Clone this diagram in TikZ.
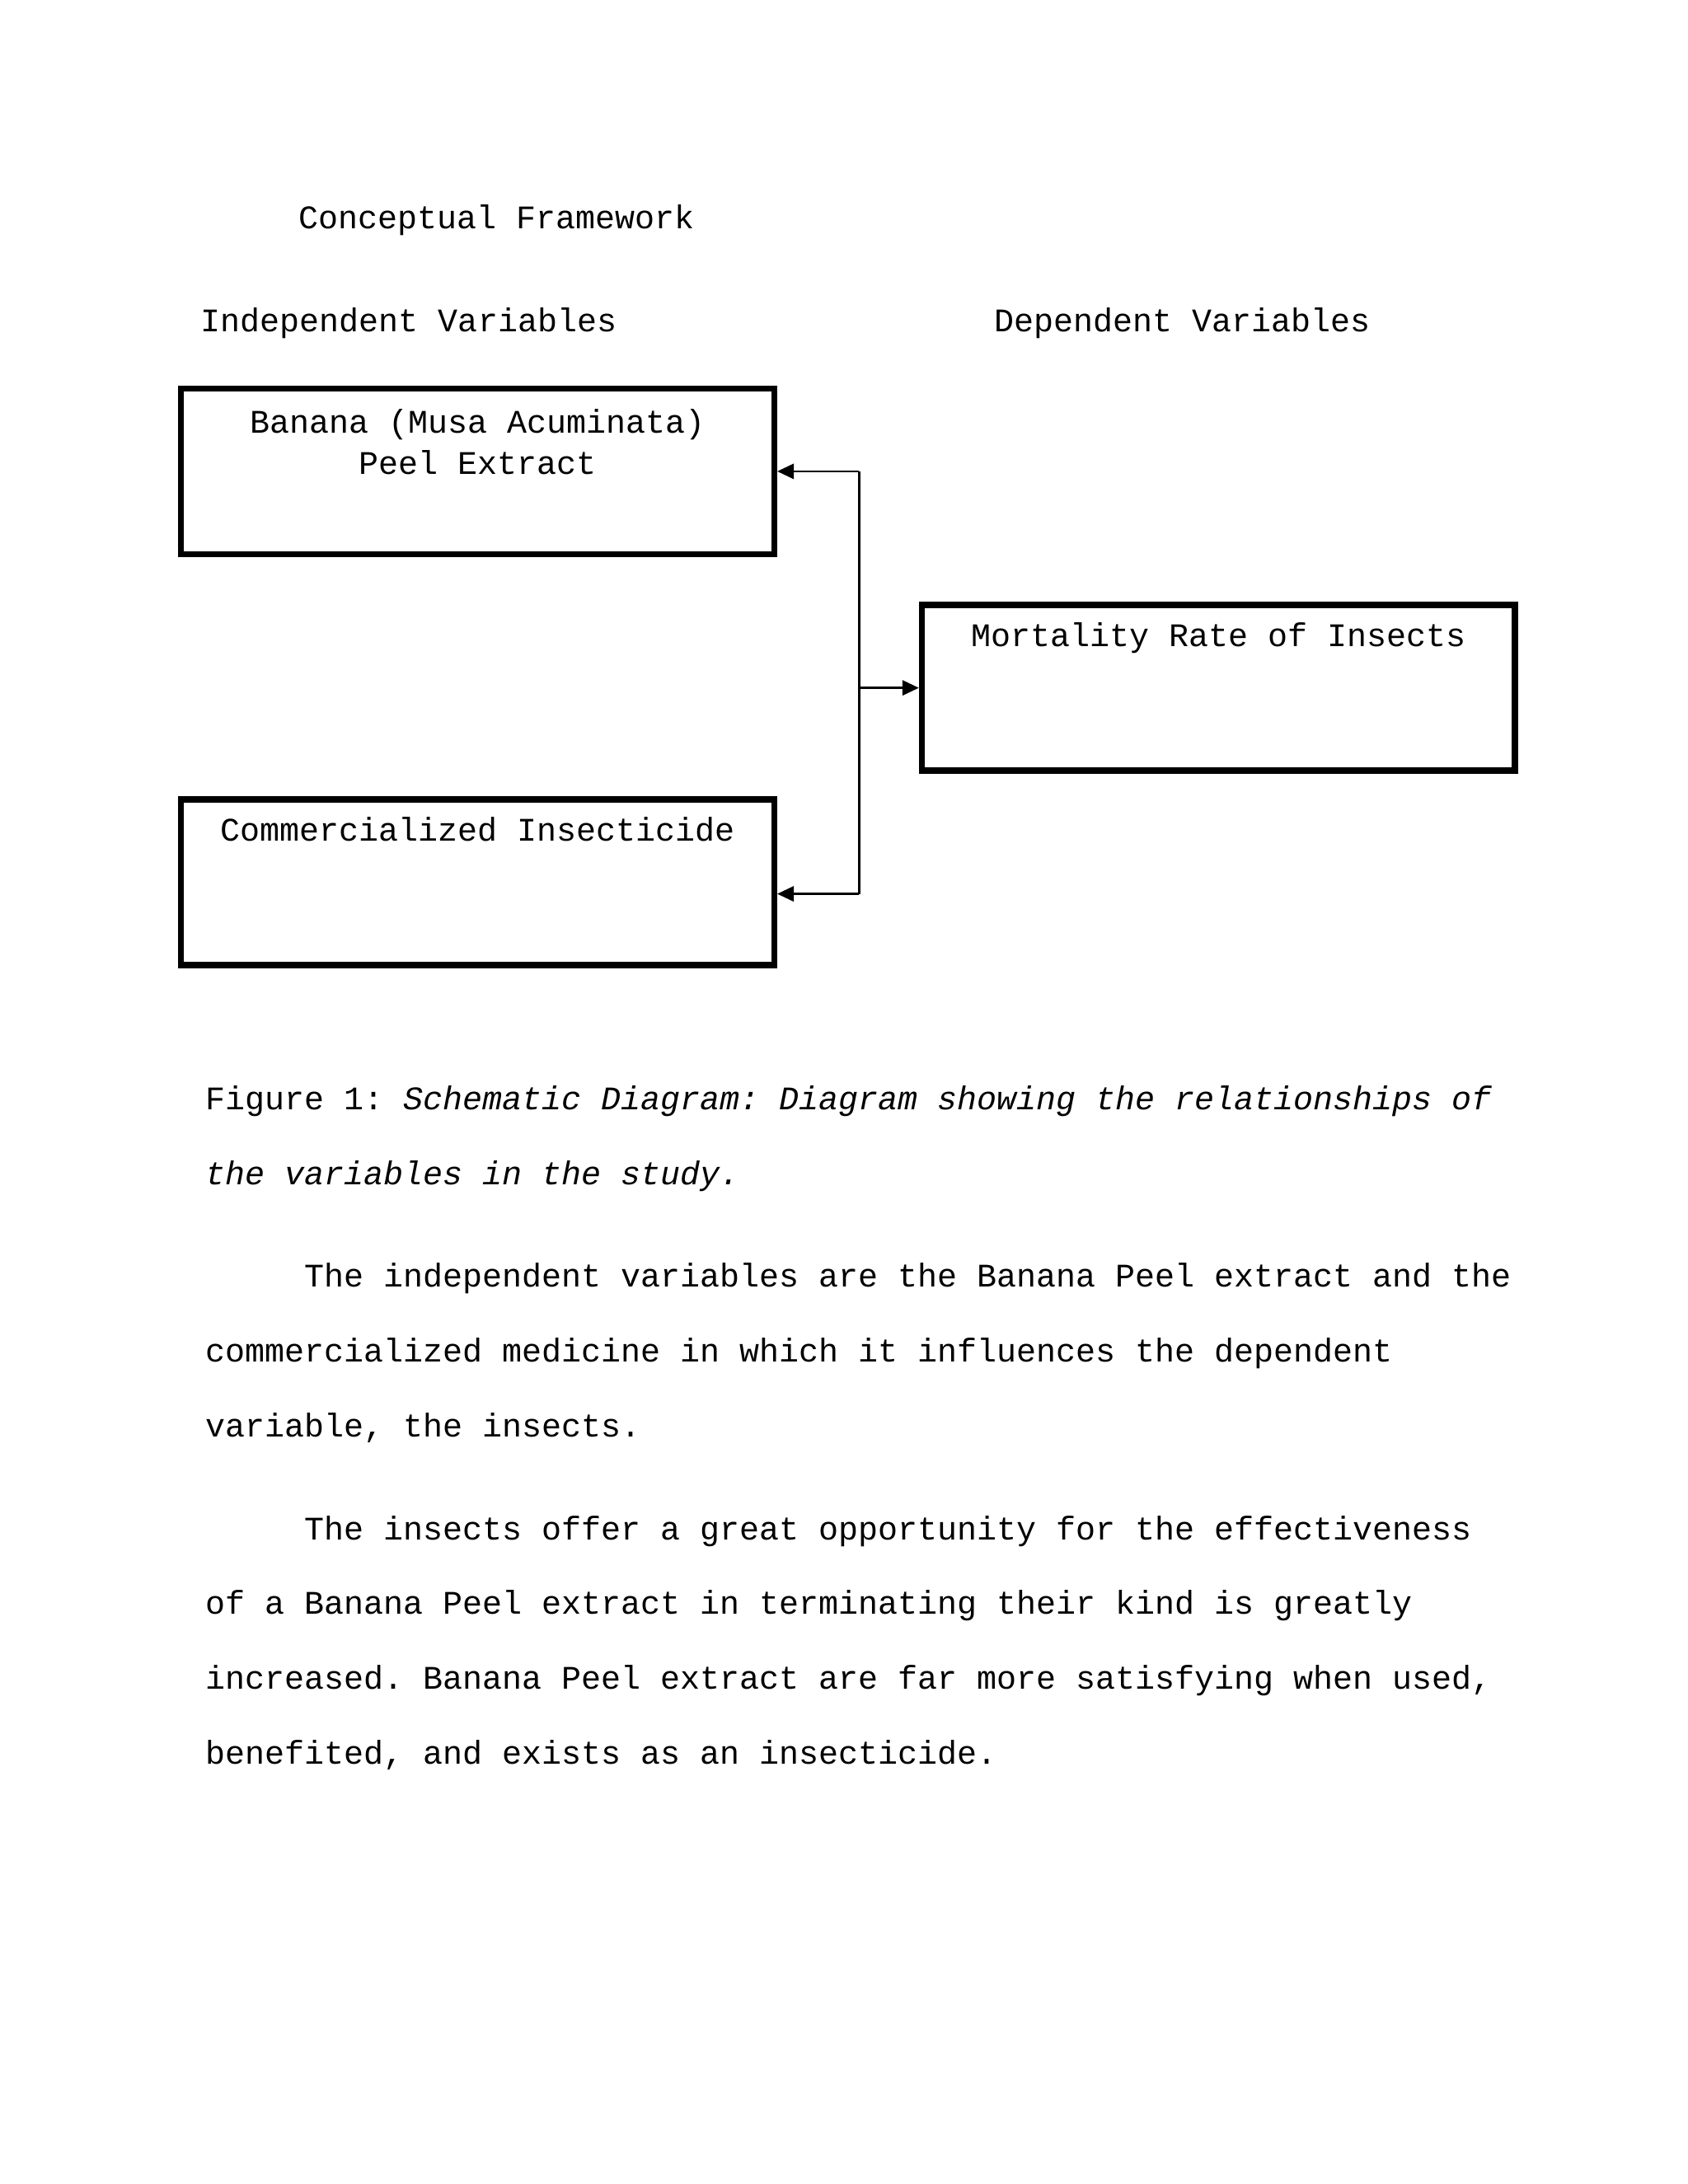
\documentclass[tikz,border=0pt]{standalone}
\usepackage{fontspec}
\setmainfont{Liberation Mono}
\frenchspacing
\usetikzlibrary{arrows.meta,positioning}

\begin{document}
\begin{tikzpicture}[x=1in,y=1in,
		varbox/.style={draw, line width=2.25pt, minimum width=2.987in, minimum height=0.834in, inner sep=0pt},
		boxtext/.style={anchor=base, inner sep=0pt, align=center, font=\fontsize{12}{15.15}\selectfont},
		plain/.style={anchor=base west, inner sep=0pt, align=left, font=\fontsize{12}{27.27}\selectfont},
		link/.style={line width=0.75pt, -{Triangle[length=6pt,width=5.5pt]}}]
				\useasboundingbox (0,0) rectangle (8.5,-11);
				
				\node[plain] (title) at (1.501,-1.150) {Conceptual Framework};
				\node[plain] (indep) at (1.010,-1.669) {Independent Variables};
				\node[plain] (dep) at (5.007,-1.669) {Dependent Variables};
				
				\node[varbox] (banana) at (2.4055,-2.374) {};
				\node[boxtext] (bananatext) at ([yshift=-0.448in]banana.north) {Banana (Musa Acuminata)\\Peel Extract};
				
				\node[varbox] (pesticide) at (2.4055,-4.443) {};
				\node[boxtext] (pesticidetext) at ([yshift=-0.224in]pesticide.north) {Commercialized Insecticide};
				
				\node[varbox] (mortality) at (6.1365,-3.4645) {};
				\node[boxtext] (mortalitytext) at ([yshift=-0.224in]mortality.north) {Mortality Rate of Insects};
				
				\coordinate (hubtop) at (4.327,-2.374);
				\coordinate (hubmid) at (4.327,-3.4645);
				\coordinate (hubbot) at (4.327,-4.502);
				\draw[line width=0.75pt] (hubtop) -- (hubbot);
				\draw[link] (hubtop) -- (hubtop -| banana.east);
				\draw[link] (hubbot) -- (hubbot -| pesticide.east);
				\draw[link] (hubmid) -- (mortality.west);
				
				\node[plain] (caption) at (1.031,-5.968) {Figure 1: \textit{Schematic Diagram: Diagram showing the relationships of}\\\textit{the variables in the study.}};
				
				\node[plain] (parone) at (1.031,-7.238) {\hspace*{0.5in}The independent variables are the Banana Peel extract and the\\commercialized medicine in which it influences the dependent\\variable, the insects.};
				
				\node[plain] (partwo) at (1.031,-8.886) {\hspace*{0.5in}The insects offer a great opportunity for the effectiveness\\of a Banana Peel extract in terminating their kind is greatly\\increased. Banana Peel extract are far more satisfying when used,\\benefited, and exists as an insecticide.};
			\end{tikzpicture}
\end{document}
